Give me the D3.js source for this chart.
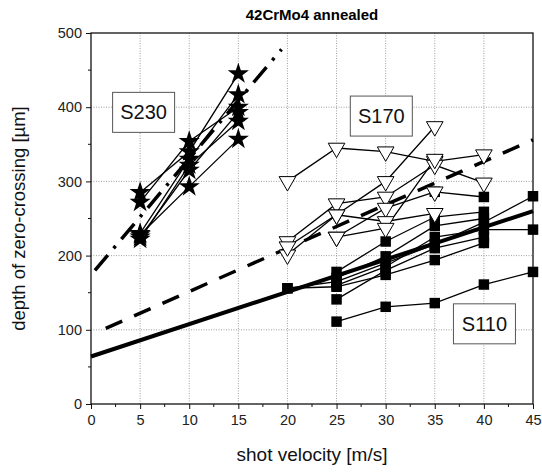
<!DOCTYPE html>
<html><head><meta charset="utf-8">
<script src="https://cdn.jsdelivr.net/npm/d3@7"></script>
<style>body{margin:0;background:#fff}svg{display:block}</style>
</head><body>
<svg id="c" width="542" height="473"></svg>
<script>
const title = "42CrMo4 annealed";
const xLabel = "shot velocity [m/s]";
const yLabel = "depth of zero-crossing [µm]";
const xTicks = [0,5,10,15,20,25,30,35,40,45];
const yTicks = [0,100,200,300,400,500];

// S230 series (stars)
const s230 = [
  [[5,285],[10,340],[15,445]],
  [[5,272],[10,354],[15,400]],
  [[5,230],[10,330],[15,417]],
  [[5,225],[10,315],[15,393]],
  [[5,222],[10,322],[15,381]],
  [[5,228],[10,293],[15,357]]
];
// S170 series (open triangles)
const s170 = [
  [[20,300],[25,345],[30,340],[35,327],[40,336]],
  [[20,219],[25,270],[30,279],[35,322],[40,298]],
  [[20,201],[25,255],[30,300],[35,374]],
  [[25,225],[30,264],[35,286]],
  [[20,212],[25,255],[30,246],[35,257]],
  [[25,225],[30,237],[35,330]]
];
// S110 series (filled squares)
const s110 = [
  [[20,156],[25,165],[30,190],[35,215],[40,245],[45,280]],
  [[25,178],[30,219],[35,252],[40,259]],
  [[25,170],[30,199],[35,240],[40,250]],
  [[25,160],[30,185],[35,225],[40,235],[45,235]],
  [[20,156],[25,158],[30,174],[35,194],[40,217]],
  [[25,141],[30,180],[35,210],[40,225]],
  [[25,111],[30,131],[35,136],[40,161],[45,178]],
  [[35,286],[40,279]]
];
// fitted trend lines
const fitS230 = [[0.4,180],[19.4,478]];
const fitS170 = [[1.5,102],[45,356]];
const fitS110 = [[0,64],[45,260]];
const boxLabels = [
  {text:"S230", x:2.2, y:420},
  {text:"S170", x:26.4, y:415},
  {text:"S110", x:36.9, y:135}
];

const svg = d3.select("#c");
const L=91, R=533, T=33, B=404;
const x = d3.scaleLinear().domain([0,45]).range([L,R]);
const y = d3.scaleLinear().domain([0,500]).range([B,T]);
const font = "Liberation Sans, Arial, sans-serif";

// grid
const g = svg.append("g");
g.selectAll(".gx").data(xTicks.slice(1,-1)).join("line")
  .attr("x1",d=>x(d)).attr("x2",d=>x(d)).attr("y1",T).attr("y2",B)
  .attr("stroke","#888").attr("stroke-width",0.8).attr("stroke-dasharray","1,1.5");
g.selectAll(".gy").data(yTicks.slice(1,-1)).join("line")
  .attr("y1",d=>y(d)).attr("y2",d=>y(d)).attr("x1",L).attr("x2",R)
  .attr("stroke","#888").attr("stroke-width",0.8).attr("stroke-dasharray","1,1.5");

// axes
const xAxis = d3.axisBottom(x).tickValues(xTicks).tickSize(5).tickPadding(6);
const yAxis = d3.axisLeft(y).tickValues(yTicks).tickSize(5).tickPadding(4);
const gx = svg.append("g").attr("transform",`translate(0,${B})`).call(xAxis);
const gy = svg.append("g").attr("transform",`translate(${L},0)`).call(yAxis);
[gx,gy].forEach(a=>{
  a.select(".domain").remove();
  a.selectAll("text").attr("font-family",font).attr("font-size",14.5).attr("fill","#222");
  a.selectAll("line").attr("stroke","#111");
});
// minor ticks
svg.append("g").selectAll("line").data(d3.range(2.5,45,5)).join("line")
  .attr("x1",d=>x(d)).attr("x2",d=>x(d)).attr("y1",B).attr("y2",B+3).attr("stroke","#111");
svg.append("g").selectAll("line").data(d3.range(50,500,100)).join("line")
  .attr("y1",d=>y(d)).attr("y2",d=>y(d)).attr("x1",L).attr("x2",L-3).attr("stroke","#111");

// frame
svg.append("rect").attr("x",L).attr("y",T).attr("width",R-L).attr("height",B-T)
  .attr("fill","none").attr("stroke","#111").attr("stroke-width",1.3);

const line = d3.line().x(d=>x(d[0])).y(d=>y(d[1]));

// fit lines
svg.append("path").attr("d",line(fitS110)).attr("fill","none").attr("stroke","#000").attr("stroke-width",4);
svg.append("path").attr("d",line(fitS170)).attr("fill","none").attr("stroke","#000").attr("stroke-width",3.5)
  .attr("stroke-dasharray","18,13");
svg.append("path").attr("d",line(fitS230)).attr("fill","none").attr("stroke","#000").attr("stroke-width",3.5)
  .attr("stroke-dasharray","20,9,3,9");

// series lines
const drawLines = (data)=> svg.append("g").selectAll("path").data(data).join("path")
  .attr("d",line).attr("fill","none").attr("stroke","#000").attr("stroke-width",1.3);
drawLines(s110); drawLines(s170); drawLines(s230);

// markers
const sq = d3.symbol().type(d3.symbolSquare).size(110);
svg.append("g").selectAll("path").data(s110.flat()).join("path")
  .attr("d",sq).attr("transform",d=>`translate(${x(d[0])},${y(d[1])})`).attr("fill","#000");
const tri = d3.symbol().type(d3.symbolTriangle).size(120);
svg.append("g").selectAll("path").data(s170.flat()).join("path")
  .attr("d",tri).attr("transform",d=>`translate(${x(d[0])},${y(d[1])}) rotate(180)`)
  .attr("fill","#fff").attr("stroke","#000").attr("stroke-width",1);
const star = d3.symbol().type(d3.symbolStar).size(140);
svg.append("g").selectAll("path").data(s230.flat()).join("path")
  .attr("d",star).attr("transform",d=>`translate(${x(d[0])},${y(d[1])})`).attr("fill","#000");

// label boxes
boxLabels.forEach(b=>{
  const w=62, h=40;
  const cx=x(b.x)+w/2, cy=y(b.y)+h/2;
  svg.append("rect").attr("x",x(b.x)).attr("y",y(b.y)).attr("width",w).attr("height",h)
    .attr("fill","#fff").attr("stroke","#555").attr("stroke-width",1);
  svg.append("text").attr("x",cx).attr("y",cy+7).attr("text-anchor","middle")
    .attr("font-family",font).attr("font-size",20).attr("fill","#111").text(b.text);
});

// title & labels
svg.append("text").attr("x",(L+R)/2).attr("y",20).attr("text-anchor","middle")
  .attr("font-family",font).attr("font-weight","bold").attr("font-size",15).text(title);
svg.append("text").attr("x",(L+R)/2).attr("y",461).attr("text-anchor","middle")
  .attr("font-family",font).attr("font-size",19).attr("fill","#111").text(xLabel);
svg.append("text").attr("transform",`translate(25,${(T+B)/2}) rotate(-90)`).attr("text-anchor","middle")
  .attr("font-family",font).attr("font-size",18.5).attr("fill","#111").text(yLabel);
</script>
</body></html>
